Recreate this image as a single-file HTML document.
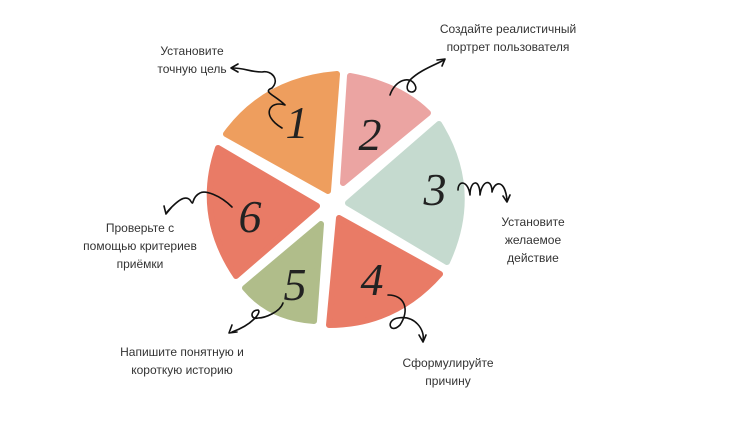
<!DOCTYPE html>
<html><head><meta charset="utf-8"><style>
html,body{margin:0;padding:0;background:#fff;}
svg{display:block;}
.t{font-family:"Liberation Sans",sans-serif;font-size:12px;fill:#333;text-anchor:middle;}
.n{font-family:"Liberation Serif",serif;font-style:italic;font-size:46px;fill:#222;text-anchor:middle;}
.a{fill:none;stroke:#111;stroke-width:1.6;stroke-linecap:round;stroke-linejoin:round;}
</style></head><body>
<svg width="730" height="428" viewBox="0 0 730 428">
<g stroke-linejoin="round" stroke-width="6">
<path d="M226,134 Q265,80 337,74 L328,191 Z" fill="#EE9E5E" stroke="#EE9E5E"/>
<path d="M350,76 Q400,85 428,113 L343,183 Z" fill="#EBA4A2" stroke="#EBA4A2"/>
<path d="M439,124 Q480,190 447,262 L348,203 Z" fill="#C5DACF" stroke="#C5DACF"/>
<path d="M440,274 Q395,325 329,325 L339,218 Z" fill="#E97B66" stroke="#E97B66"/>
<path d="M321,224 L314,321 Q270,318 245,288 Z" fill="#B0BD8A" stroke="#B0BD8A"/>
<path d="M218,148 L317,206 L236,276 Q195,215 218,148 Z" fill="#E97B66" stroke="#E97B66"/>
</g>
<text class="n" x="297" y="138">1</text>
<text class="n" x="370" y="150">2</text>
<text class="n" x="435" y="205">3</text>
<text class="n" x="372" y="295">4</text>
<text class="n" x="295" y="300">5</text>
<text class="n" x="250" y="232">6</text>
<!-- arrows -->
<path class="a" d="M282,128 C260,115 270,100 285,105 C275,95 262,92 272,88 C280,80 272,70 262,72 C250,72 245,68 232,68"/>
<path class="a" d="M238,64 L231,68 L238,72"/>
<path class="a" d="M390,95 C395,80 410,75 415,85 C420,95 400,95 410,80 C420,70 435,65 444,60"/>
<path class="a" d="M437,60 L445,59 L442,66"/>
<path class="a" d="M458,190 C458,180 468,180 470,195 C470,180 480,178 480,195 C482,180 492,178 492,192 C495,180 505,180 507,200"/>
<path class="a" d="M503,196 L507,202 L510,195"/>
<path class="a" d="M388,295 C405,295 410,310 400,325 C390,335 385,320 398,318 C415,315 425,330 423,340"/>
<path class="a" d="M419,335 L423,342 L426,335"/>
<path class="a" d="M283,303 C280,312 265,318 258,318 C250,320 250,310 258,310 C262,312 252,325 232,332"/>
<path class="a" d="M232,325 L229,333 L237,332"/>
<path class="a" d="M232,207 C220,195 205,190 200,193 C190,198 195,208 190,200 C185,195 178,200 167,212"/>
<path class="a" d="M164,206 L166,214 L171,208"/>
<!-- labels -->
<text class="t" x="192" y="55">Установите</text>
<text class="t" x="192" y="73">точную цель</text>
<text class="t" x="508" y="33">Создайте реалистичный</text>
<text class="t" x="508" y="51">портрет пользователя</text>
<text class="t" x="533" y="226">Установите</text>
<text class="t" x="533" y="244">желаемое</text>
<text class="t" x="533" y="262">действие</text>
<text class="t" x="140" y="232">Проверьте с</text>
<text class="t" x="140" y="250">помощью критериев</text>
<text class="t" x="140" y="268">приёмки</text>
<text class="t" x="182" y="356">Напишите понятную и</text>
<text class="t" x="182" y="374">короткую историю</text>
<text class="t" x="448" y="367">Сформулируйте</text>
<text class="t" x="448" y="385">причину</text>
</svg>
</body></html>
